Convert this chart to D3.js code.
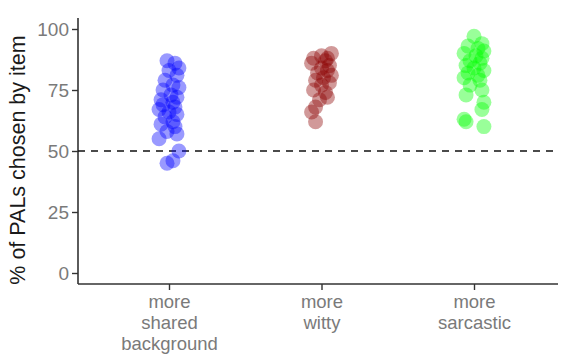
<!DOCTYPE html>
<html>
<head>
<meta charset="utf-8">
<script src="https://cdn.jsdelivr.net/npm/d3@7"></script>
<style>
  body { margin: 0; background: #fff; }
  text { font-family: "Liberation Sans", Arial, sans-serif; }
</style>
</head>
<body>
<div id="chart"></div>
<script>
var categories = ["shared", "witty", "sarcastic"];
var categoryLabels = [["more", "shared", "background"], ["more", "witty"], ["more", "sarcastic"]];
var colors = ["#0000ff", "#8b0000", "#00ff00"];
var yTicks = [0, 25, 50, 75, 100];
var refLine = 50;

// % chosen per item, with horizontal jitter (fraction of band)
var sharedValues = [87, 86, 84, 83, 81, 79, 77, 76, 75, 73, 72, 71, 70, 69, 68, 67, 66, 65, 64, 62, 61, 60, 58, 57, 55, 50, 46, 45];
var sharedJitter = [-0.01, 0.03, 0.05, 0.0, 0.04, -0.02, 0.02, 0.05, -0.03, 0.01, 0.04, -0.04, 0.02, -0.03, 0.03, -0.05, 0.0, 0.04, -0.02, 0.02, -0.04, 0.03, -0.01, 0.04, -0.05, 0.05, 0.02, -0.01];
var wittyValues = [90, 89, 88, 88, 87, 86, 85, 84, 83, 82, 81, 80, 79, 78, 77, 75, 74, 72, 71, 68, 66, 62];
var wittyJitter = [0.05, 0.0, -0.04, 0.03, 0.02, -0.05, 0.04, 0.0, 0.03, -0.02, 0.05, 0.01, -0.03, 0.04, 0.0, -0.04, 0.02, 0.03, -0.01, -0.03, -0.05, -0.03];
var sarcasticValues = [97, 94, 93, 92, 91, 90, 89, 88, 87, 86, 85, 84, 83, 82, 81, 80, 79, 77, 75, 73, 70, 67, 63, 62, 60];
var sarcasticJitter = [0.0, 0.04, -0.03, 0.02, 0.05, -0.05, 0.01, 0.04, -0.02, 0.03, -0.04, 0.0, 0.05, -0.03, 0.02, -0.05, 0.03, -0.02, 0.04, -0.04, 0.05, 0.04, -0.05, -0.04, 0.05];

var seriesValues = [sharedValues, wittyValues, sarcasticValues];
var seriesJitter = [sharedJitter, wittyJitter, sarcasticJitter];

var W = 563, H = 356;
var axisLeft = 78, axisRight = 558, axisTop = 18, axisBottom = 284;

var svg = d3.select("#chart").append("svg")
  .attr("width", W).attr("height", H);

var x = d3.scalePoint().domain(categories).range([169, 474]);
var band = x.step();
var y = d3.scaleLinear().domain([0, 100]).range([273, 29]);

// y axis
var yAxis = svg.append("g")
  .attr("transform", "translate(" + axisLeft + ",0)")
  .call(d3.axisLeft(y).tickValues(yTicks).tickSize(6).tickPadding(3));
yAxis.select(".domain").attr("d", "M0," + axisTop + "V" + axisBottom)
  .attr("stroke", "#333").attr("stroke-width", 1.6);
yAxis.selectAll(".tick line").attr("stroke", "#333").attr("stroke-width", 1.4);
yAxis.selectAll(".tick text").attr("fill", "#7a7a7a").style("font-size", "19px");

// x axis
var xAxis = svg.append("g")
  .attr("transform", "translate(0," + axisBottom + ")")
  .call(d3.axisBottom(x).tickSize(6).tickFormat(""));
xAxis.select(".domain").attr("d", "M" + axisLeft + ",0H" + axisRight)
  .attr("stroke", "#333").attr("stroke-width", 1.6);
xAxis.selectAll(".tick line").attr("stroke", "#333").attr("stroke-width", 1.4);
xAxis.selectAll(".tick").each(function(d, i) {
  var t = d3.select(this).append("text")
    .attr("fill", "#7a7a7a").attr("text-anchor", "middle")
    .style("font-size", "18.5px");
  categoryLabels[i].forEach(function(line, j) {
    t.append("tspan").attr("x", 0).attr("y", 24 + j * 21).text(line);
  });
});

// reference line
svg.append("line")
  .attr("x1", axisLeft).attr("x2", axisRight)
  .attr("y1", y(refLine)).attr("y2", y(refLine))
  .attr("stroke", "#111").attr("stroke-width", 1.5)
  .attr("stroke-dasharray", "7,6");

// points
categories.forEach(function(c, i) {
  svg.append("g").selectAll("circle")
    .data(seriesValues[i]).enter().append("circle")
    .attr("cx", function(d, j) { return x(c) + seriesJitter[i][j] * band * 1.3; })
    .attr("cy", function(d) { return y(d); })
    .attr("r", 7.5)
    .attr("fill", colors[i])
    .attr("fill-opacity", 0.4);
});

// y title
svg.append("text")
  .attr("transform", "translate(25,160) rotate(-90)")
  .attr("text-anchor", "middle")
  .attr("fill", "#1a1a1a")
  .style("font-size", "21.5px")
  .text("% of PALs chosen by item");
</script>
</body>
</html>
